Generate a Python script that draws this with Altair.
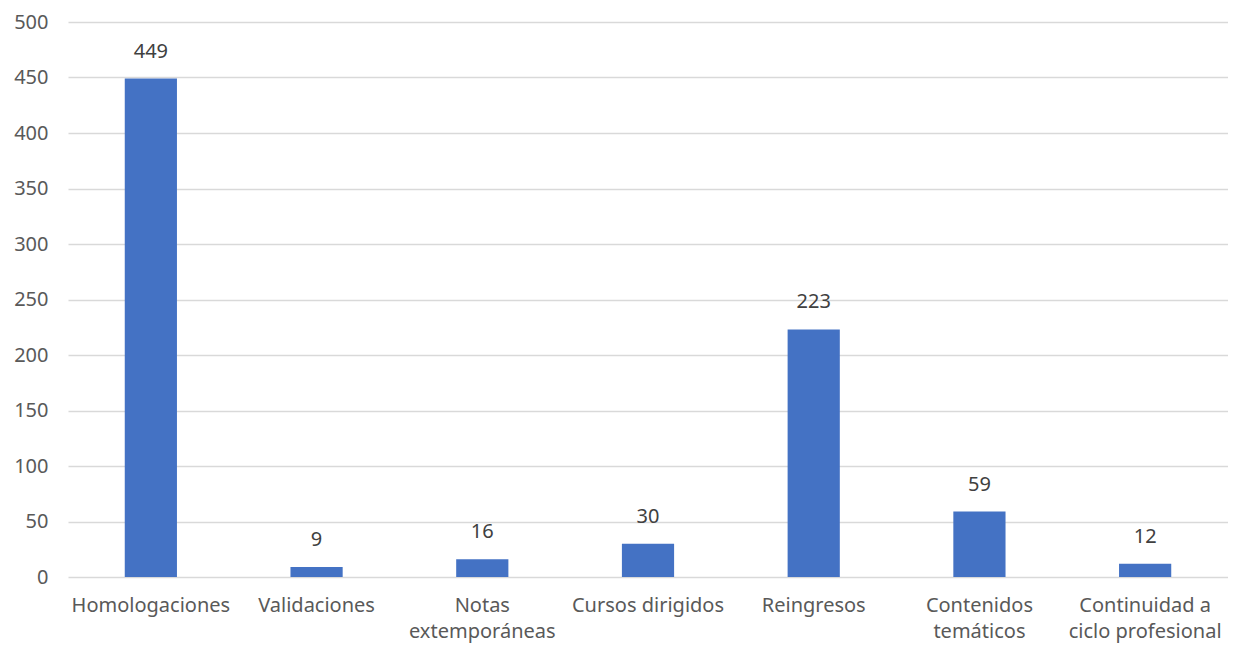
import altair as alt
import pandas as pd

categories = ["Homologaciones", "Validaciones", "Notas\nextemporáneas", "Cursos dirigidos",
              "Reingresos", "Contenidos\ntemáticos", "Continuidad a\nciclo profesional"]
values = [449, 9, 16, 30, 223, 59, 12]
y_ticks = [0, 50, 100, 150, 200, 250, 300, 350, 400, 450, 500]

df = pd.DataFrame({"cat": categories, "val": values})

FONT = "Noto Sans"
TXT = "#595959"
FS = 20

x = alt.X("cat:N", sort=None, title=None,
          scale=alt.Scale(paddingInner=0.685, paddingOuter=0.3425),
          axis=alt.Axis(labelAngle=0, labelExpr="split(datum.label, '\\n')",
                        labelFontSize=FS, labelColor=TXT, labelFont=FONT,
                        labelPadding=18, ticks=False, domain=False, grid=False,
                        labelLineHeight=26))
y = alt.Y("val:Q", title=None,
          scale=alt.Scale(domain=[0, 500], nice=False),
          axis=alt.Axis(values=y_ticks, labelFontSize=FS, labelColor=TXT, labelFont=FONT,
                        labelPadding=20, ticks=False, domain=False,
                        gridColor="#d9d9d9", gridWidth=1.3))

bars = alt.Chart(df).mark_bar(color="#4472C4").encode(x=x, y=y)
labels = alt.Chart(df).mark_text(dy=-17, fontSize=FS, color="#404040", font=FONT,
                                 baseline="bottom").encode(x=x, y=y, text="val:Q")

chart = (bars + labels).properties(
    width=1160, height=555,
    background="white",
    autosize=alt.AutoSizeParams(type="none"),
    padding={"left": 60, "top": 14, "right": 0, "bottom": 66},
).configure_view(stroke="transparent", strokeWidth=0)

chart.save("out.html", embed_options={"renderer": "svg", "actions": False})
